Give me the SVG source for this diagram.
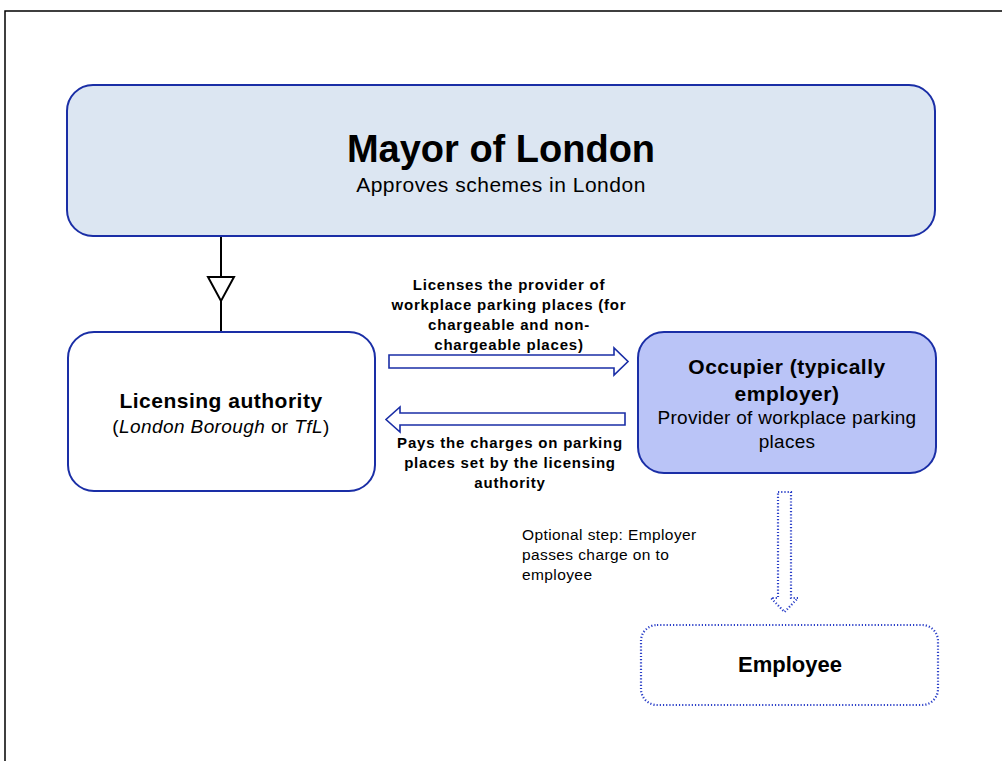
<svg xmlns="http://www.w3.org/2000/svg" width="1002" height="761" viewBox="0 0 1002 761">
<style>
text{font-family:"Liberation Sans",Arial,sans-serif;fill:#000}
.b{font-weight:bold}
.lbl{font-weight:bold;font-size:15px;letter-spacing:0.8px}
.box{stroke:#1a2ea6;stroke-width:2}
.blk{fill:#fff;stroke:#1a2ea6;stroke-width:1.6}
.dot{fill:none;stroke:#2a3fc8;stroke-width:2.2;stroke-dasharray:1.2 2}
</style>
<rect x="0" y="0" width="1002" height="761" fill="#fff"/>
<path d="M5 761 V11 H1002" fill="none" stroke="#000" stroke-width="1.5"/>
<g id="connectors">
<line x1="221" y1="236" x2="221" y2="332" stroke="#000" stroke-width="2"/>
<polygon points="208,277 234,277 221,301" fill="#fff" stroke="#000" stroke-width="2"/>
<polygon class="blk" points="389,355 614,355 614,348 628,361.5 614,375 614,368 389,368"/>
<polygon class="blk" points="625,413 400,413 400,407 386,419.5 400,432 400,425 625,425"/>
<polygon class="dot" points="778,492 791,492 791,598 798,598 784.5,612 771,598 778,598"/>
</g>
<g id="mayor">
<rect class="box" x="67" y="85" width="868" height="151" rx="26" fill="#dce6f2"/>
<text class="b" x="501" y="162" font-size="38" text-anchor="middle">Mayor of London</text>
<text x="501" y="192" font-size="21" text-anchor="middle" letter-spacing="0.5">Approves schemes in London</text>
</g>
<g id="licensing">
<rect class="box" x="68" y="332" width="307" height="159" rx="26" fill="#fff"/>
<text class="b" x="221" y="408" font-size="21" text-anchor="middle" letter-spacing="0.5">Licensing authority</text>
<text x="221" y="433" font-size="19" text-anchor="middle" letter-spacing="0.4">(<tspan font-style="italic">London Borough</tspan> or <tspan font-style="italic">TfL</tspan>)</text>
</g>
<g id="label-licenses">
<text class="lbl" text-anchor="middle"><tspan x="509" y="290">Licenses the provider of</tspan><tspan x="509" y="310">workplace parking places (for</tspan><tspan x="509" y="330">chargeable and non-</tspan><tspan x="509" y="350">chargeable places)</tspan></text>
</g>
<g id="label-pays">
<text class="lbl" text-anchor="middle"><tspan x="510" y="448">Pays the charges on parking</tspan><tspan x="510" y="468">places set by the licensing</tspan><tspan x="510" y="488">authority</tspan></text>
</g>
<g id="occupier">
<rect class="box" x="638" y="332" width="298" height="141" rx="26" fill="#bac4f7"/>
<text class="b" font-size="21" text-anchor="middle" letter-spacing="0.5"><tspan x="787" y="374">Occupier (typically</tspan><tspan x="787" y="401">employer)</tspan></text>
<text font-size="19" text-anchor="middle" letter-spacing="0.3"><tspan x="787" y="424">Provider of workplace parking</tspan><tspan x="787" y="448">places</tspan></text>
</g>
<g id="label-optional">
<text font-size="15.5" letter-spacing="0.4"><tspan x="522" y="540">Optional step: Employer</tspan><tspan x="522" y="560">passes charge on to</tspan><tspan x="522" y="580">employee</tspan></text>
</g>
<g id="employee">
<rect class="dot" x="641" y="625" width="297" height="80" rx="16"/>
<text class="b" x="790" y="672" font-size="22" text-anchor="middle">Employee</text>
</g>
</svg>
